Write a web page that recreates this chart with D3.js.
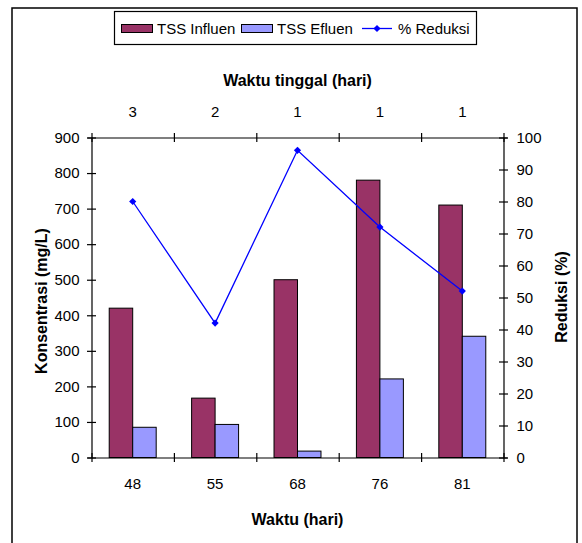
<!DOCTYPE html>
<html>
<head>
<meta charset="utf-8">
<script src="https://cdn.jsdelivr.net/npm/d3@7"></script>
<style>
  body { margin: 0; background: #fff; }
  svg text { font-family: "Liberation Sans", Arial, sans-serif; fill: #000; }
  .tick text { font-size: 15px; }
</style>
</head>
<body>
<svg id="chart"></svg>
<script>
const days = ['48', '55', '68', '76', '81'];
const residence = ['3', '2', '1', '1', '1'];
const tssInfluen = [420, 167, 500, 780, 710];
const tssEfluen = [85, 93, 18, 221, 341];
const reduksi = [80, 42, 96, 72, 52];
const leftTicks = [0, 100, 200, 300, 400, 500, 600, 700, 800, 900];
const rightTicks = [0, 10, 20, 30, 40, 50, 60, 70, 80, 90, 100];

const W = 582, H = 543;
const margin = { top: 137.5, right: 78.5, bottom: 85.5, left: 91.5 };
const width = W - margin.left - margin.right;
const height = H - margin.top - margin.bottom;

const svg = d3.select('#chart').attr('width', W).attr('height', H);

// outer frame
svg.append('rect')
  .attr('x', 12).attr('y', 8)
  .attr('width', 565).attr('height', 560)
  .attr('fill', 'none').attr('stroke', '#000').attr('stroke-width', 1.5);

const g = svg.append('g').attr('transform', `translate(${margin.left},${margin.top})`);

const x = d3.scaleBand().domain(d3.range(days.length)).range([0, width]);
const xSub = d3.scaleBand().domain(['in', 'ef'])
  .range([x.bandwidth() * 0.215, x.bandwidth() * 0.785]);
const yL = d3.scaleLinear().domain([0, 900]).range([height, 0]);
const yR = d3.scaleLinear().domain([0, 100]).range([height, 0]);

const rows = days.map((d, i) => ({ i, inf: tssInfluen[i], ef: tssEfluen[i], red: reduksi[i] }));

// bars
const grp = g.selectAll('.grp').data(rows).enter().append('g')
  .attr('transform', d => `translate(${x(d.i)},0)`);
grp.append('rect')
  .attr('x', xSub('in')).attr('width', xSub.bandwidth())
  .attr('y', d => yL(d.inf)).attr('height', d => height - yL(d.inf))
  .attr('fill', '#993366').attr('stroke', '#000').attr('stroke-width', 1);
grp.append('rect')
  .attr('x', xSub('ef')).attr('width', xSub.bandwidth())
  .attr('y', d => yL(d.ef)).attr('height', d => height - yL(d.ef))
  .attr('fill', '#9999ff').attr('stroke', '#000').attr('stroke-width', 1);

// axes
const crossTicks = (sel, horiz) => {
  sel.selectAll('.tick line').each(function () {
    if (horiz) d3.select(this).attr('y1', -4.5).attr('y2', 4.5);
    else d3.select(this).attr('x1', -4.5).attr('x2', 4.5);
  });
  sel.select('.domain').attr('stroke-width', 1.2);
  sel.selectAll('.tick line').attr('stroke-width', 1.2);
};

g.append('g')
  .call(d3.axisLeft(yL).tickValues(leftTicks).tickSize(4).tickPadding(8))
  .call(s => crossTicks(s, false));

g.append('g')
  .attr('transform', `translate(${width},0)`)
  .call(d3.axisRight(yR).tickValues(rightTicks).tickSize(4).tickPadding(9))
  .call(s => crossTicks(s, false));

// category axes: labels at band centres, ticks at band edges
const edges = d3.range(days.length + 1).map(i => i * x.step());
const edgeAxis = d3.scaleLinear().domain([0, width]).range([0, width]);

const bottomAxis = g.append('g').attr('transform', `translate(0,${height})`);
bottomAxis.call(d3.axisBottom(edgeAxis).tickValues(edges).tickFormat('').tickSizeOuter(0))
  .call(s => crossTicks(s, true));
bottomAxis.append('g')
  .call(d3.axisBottom(x).tickFormat(i => days[i]).tickSize(0).tickPadding(21))
  .call(s => s.select('.domain').remove());

const topAxis = g.append('g');
topAxis.call(d3.axisTop(edgeAxis).tickValues(edges).tickFormat('').tickSizeOuter(0))
  .call(s => crossTicks(s, true));
topAxis.append('g')
  .call(d3.axisTop(x).tickFormat(i => residence[i]).tickSize(0).tickPadding(21))
  .call(s => s.select('.domain').remove());

// line
const line = d3.line()
  .x(d => x(d.i) + x.bandwidth() / 2)
  .y(d => yR(d.red));
g.append('path').datum(rows)
  .attr('fill', 'none').attr('stroke', '#0000ff').attr('stroke-width', 1.3)
  .attr('d', line);
const diamond = d3.symbol().type(d3.symbolSquare).size(26);
g.selectAll('.mk').data(rows).enter().append('path')
  .attr('d', diamond)
  .attr('transform', d => `translate(${x(d.i) + x.bandwidth() / 2},${yR(d.red)}) rotate(45)`)
  .attr('fill', '#0000ff');

// titles
const title = (txt, tx, ty, rot) => svg.append('text')
  .attr('transform', `translate(${tx},${ty})` + (rot ? ` rotate(${rot})` : ''))
  .attr('text-anchor', 'middle').attr('dominant-baseline', 'central')
  .attr('font-size', 16).attr('font-weight', 'bold').text(txt);
title('Waktu tinggal (hari)', 297.5, 80);
title('Waktu (hari)', 297.5, 519);
title('Konsentrasi (mg/L)', 41, 301, -90);
title('Reduksi (%)', 561, 297, -90);

// legend
const lg = svg.append('g');
lg.append('rect').attr('x', 114.5).attr('y', 11.5).attr('width', 362).attr('height', 33)
  .attr('fill', '#fff').attr('stroke', '#000').attr('stroke-width', 1.2);
const legendItems = [
  { name: 'TSS Influen', color: '#993366', type: 'bar', x: 121 },
  { name: 'TSS Efluen', color: '#9999ff', type: 'bar', x: 241 },
  { name: '% Reduksi', color: '#0000ff', type: 'line', x: 362 }
];
legendItems.forEach(it => {
  if (it.type === 'bar') {
    lg.append('rect').attr('x', it.x + 0.5).attr('y', 24.5).attr('width', 31).attr('height', 8)
      .attr('fill', it.color).attr('stroke', '#000');
  } else {
    lg.append('line').attr('x1', it.x).attr('x2', it.x + 30).attr('y1', 28.5).attr('y2', 28.5)
      .attr('stroke', it.color).attr('stroke-width', 1.3);
    lg.append('path').attr('d', diamond)
      .attr('transform', `translate(${it.x + 15},28.5) rotate(45)`).attr('fill', it.color);
  }
  lg.append('text').attr('x', it.x + 36).attr('y', 28.5)
    .attr('dominant-baseline', 'central').attr('font-size', 15).text(it.name);
});
</script>
</body>
</html>
